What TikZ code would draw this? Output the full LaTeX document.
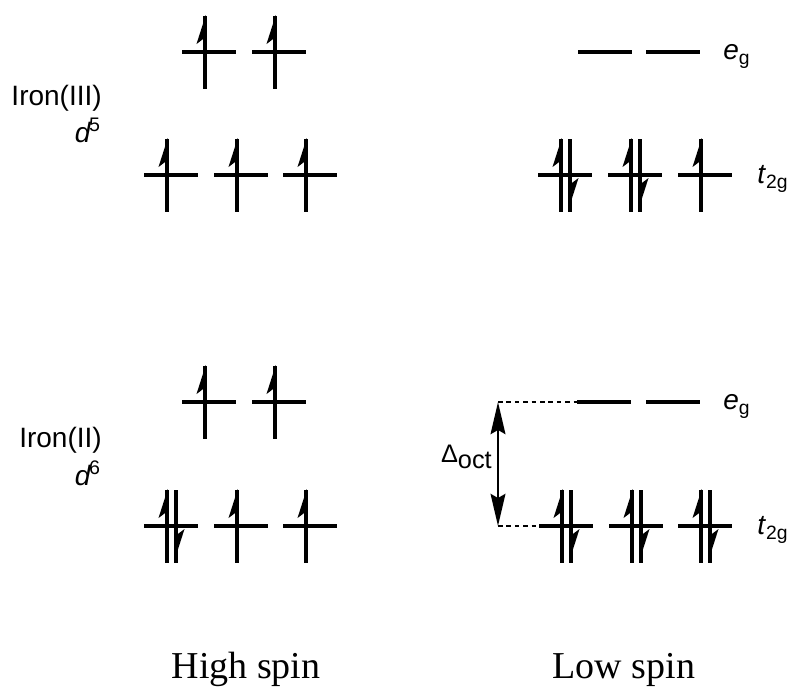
\documentclass[tikz,border=0pt]{standalone}
\usepackage{fontspec}
\setmainfont{Liberation Serif}
\setsansfont{Liberation Sans}
\usetikzlibrary{arrows.meta}

\newcommand{\lowsub}[1]{\raisebox{-4pt}{\fontsize{14.5}{17}\selectfont #1}}

\begin{document}
\begin{tikzpicture}[x=0.75pt,y=-0.75pt,>={Stealth[length=24pt,width=11pt,inset=3pt]},
  every node/.style={inner sep=0pt},
  orb/.style={line width=2.6pt},
  spin/.style={line width=2.4pt},
  gap/.style={line width=1.5pt,dash pattern=on 3.5pt off 2.8pt},
  ion/.style={font=\fontsize{21}{25}\selectfont\sffamily,anchor=base east},
  orblabel/.style={font=\fontsize{21}{25}\selectfont\sffamily,anchor=base west},
  spinlabel/.style={font=\fontsize{28.5}{34}\selectfont,anchor=base},
  orbital/.pic={\draw[orb] (-27,0) -- (27,0);},
  spinup/.pic={\draw[spin] (0,-36) -- (0,37); \fill (0.8,-37) -- (-8.5,-8) -- (0.8,-15) -- cycle;},
  spindown/.pic={\draw[spin] (0,-36) -- (0,37); \fill (-0.8,32) -- (8.5,3) -- (-0.8,10) -- cycle;}]
\useasboundingbox (0,0) rectangle (793,687);

% Iron(III), high spin
\foreach \cx in {209,279} {\pic at (\cx,52) {orbital}; \pic at (\cx-4,52) {spinup};}
\foreach \cx in {171,241,310} {\pic at (\cx,175) {orbital}; \pic at (\cx-4,175) {spinup};}
% Iron(III), low spin
\foreach \cx in {605,673} {\pic at (\cx,52) {orbital};}
\foreach \cx in {565,635} {\pic at (\cx,175) {orbital}; \pic at (\cx-4,175) {spinup}; \pic at (\cx+5,175) {spindown};}
\pic at (705,175) {orbital};
\pic at (701,175) {spinup};
% Iron(II), high spin
\foreach \cx in {209,279} {\pic at (\cx,402) {orbital}; \pic at (\cx-4,402) {spinup};}
\foreach \cx in {171,241,310} {\pic at (\cx,526) {orbital}; \pic at (\cx-4,526) {spinup};}
\pic at (176,526) {spindown};
% Iron(II), low spin
\foreach \cx in {604,673} {\pic at (\cx,402) {orbital};}
\foreach \cx in {566,636,705} {\pic at (\cx,526) {orbital}; \pic at (\cx-4,526) {spinup}; \pic at (\cx+5,526) {spindown};}

\coordinate (egleft) at (577,402);
\coordinate (tleft) at (539,526);
\coordinate (gaptop) at (498,402);
\coordinate (gapbot) at (498,526);
\draw[gap] (gaptop) -- (egleft);
\draw[gap] (gapbot) -- (tleft);
\draw[<->,line width=2.2pt] (gaptop) -- (gapbot);
\node[anchor=base east,font=\fontsize{19}{22}\selectfont\sffamily] (delta) at (492,462) {Δ\raisebox{-5pt}{oct}};

\node[ion] (fe3) at (102,105) {Iron(III)};
\node[ion] (d5) at (101,142) {\textit{d}\kern-1.5pt\textsuperscript{5}};
\node[ion] (fe2) at (102,447) {Iron(II)};
\node[ion] (d6) at (101,485) {\textit{d}\kern-1.5pt\textsuperscript{6}};

\node[orblabel] (eg3) at (723,59) {\textit{e}\lowsub{g}};
\node[orblabel] (t3) at (757,183) {\textit{t}\lowsub{2g}};
\node[orblabel] (eg2) at (723,409) {\textit{e}\lowsub{g}};
\node[orblabel] (t2) at (757,534) {\textit{t}\lowsub{2g}};

\node[spinlabel] (high) at (246,678) {High spin};
\node[spinlabel] (low) at (624,678) {Low spin};
\end{tikzpicture}
\end{document}
